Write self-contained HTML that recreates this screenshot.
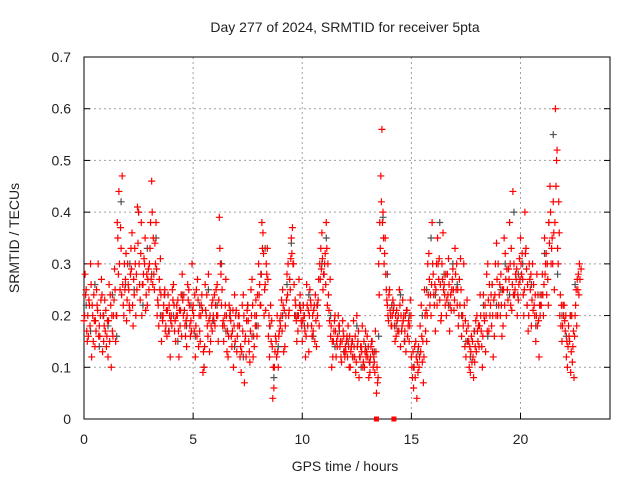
<!DOCTYPE html>
<html><head><meta charset="utf-8"><style>
html,body{margin:0;padding:0;background:#fff;}
svg{display:block;font-family:"Liberation Sans",sans-serif;}
</style></head><body>
<svg id="chart" width="640" height="480" viewBox="0 0 640 480" xmlns="http://www.w3.org/2000/svg">
<rect width="640" height="480" fill="#fff"/>
<text x="345" y="32" font-size="14" text-anchor="middle" fill="#222">Day 277 of 2024, SRMTID for receiver 5pta</text>
<text x="19" y="238" font-size="14" text-anchor="middle" fill="#222" transform="rotate(-90 19 238)">SRMTID / TECUs</text>
<text x="345" y="471" font-size="14" text-anchor="middle" fill="#222">GPS time / hours</text>
<g id="grid"></g>
<g id="axes"></g>
<g id="marks"></g>
</svg>
<script>
const xTicks=[0,5,10,15,20];
const yTicks=[0,0.1,0.2,0.3,0.4,0.5,0.6,0.7];
const yTickLabels=["0","0.1","0.2","0.3","0.4","0.5","0.6","0.7"];
const redA=[.19,.25,.16,.3,.2,.14,.22,.18,.27,.15,
.21,.12,.24,.17,.29,.2,.44,.33,.22,.27,
.3,.21,.36,.24,.28,.4,.32,.26,.35,.22,
.3,.46,.28,.38,.22,.31,.19,.25,.16,.22,
.2,.26,.15,.23,.18,.28,.21,.14,.25,.19,
.22,.12,.27,.17,.24,.1,.2,.28,.15,.23,
.18,.26,.39,.22,.15,.27,.12,.21,.17,.24,
.13,.2,.09,.24,.16,.22,.11,.27,.14,.2,
.3,.22,.36,.26,.33,.12,.19,.06,.15,.1,
.18,.25,.14,.28,.21,.35,.3,.22,.17,.24,
.15,.2,.26,.13,.22,.17,.24,.2,.3,.36,
.28,.38,.24,.16,.12,.2,.14,.18,.11,.16,
.13,.18,.1,.15,.12,.2,.08,.14,.11,.17,
.12,.09,.15,.11,.05,.3,.47,.4,.35,.22,
.25,.18,.22,.16,.2,.14,.23,.17,.21,.15,
.12,.06,.15,.09,.18,.11,.25,.15,.32,.2,
.28,.17,.35,.23,.3,.26,.2,.31,.24,.29,
.33,.22,.27,.16,.3,.12,.18,.09,.15,.11,
.2,.14,.17,.24,.13,.3,.2,.26,.16,.34,
.22,.28,.18,.32,.25,.38,.21,.3,.27,.23,
.35,.27,.4,.22,.3,.18,.26,.15,.24,.2,
.28,.35,.24,.38,.3,.42,.6,.33,.2,.15,
.22,.12,.18,.09,.14,.2,.27,.3];
const redB=[.28,.15,.22,.12,.24,.17,.3,.2,.13,.23,
.16,.26,.1,.2,.15,.35,.25,.47,.3,.19,
.25,.33,.18,.3,.41,.26,.2,.31,.24,.29,
.38,.26,.34,.2,.27,.15,.22,.18,.24,.12,
.25,.17,.22,.12,.24,.2,.16,.26,.18,.3,
.17,.25,.14,.2,.09,.26,.18,.13,.22,.19,
.25,.15,.3,.18,.2,.13,.22,.16,.1,.2,
.18,.12,.22,.07,.19,.15,.25,.12,.18,.24,
.26,.38,.2,.3,.16,.22,.04,.13,.2,.17,
.23,.13,.2,.3,.25,.37,.2,.15,.27,.19,
.22,.12,.18,.25,.16,.22,.14,.27,.33,.25,
.32,.22,.19,.1,.17,.12,.2,.15,.19,.12,
.16,.1,.14,.19,.09,.15,.12,.18,.1,.13,
.08,.14,.1,.17,.07,.38,.56,.3,.25,.19,
.2,.23,.15,.19,.25,.17,.2,.13,.18,.23,
.08,.14,.04,.1,.22,.07,.17,.3,.22,.38,
.22,.3,.27,.19,.36,.22,.28,.17,.25,.21,
.25,.18,.31,.2,.14,.23,.1,.16,.08,.19,
.15,.24,.1,.19,.28,.17,.24,.12,.3,.2,
.26,.16,.35,.2,.29,.22,.44,.25,.2,.31,
.28,.2,.33,.17,.25,.3,.2,.28,.12,.22,
.2,.3,.27,.45,.35,.25,.5,.42,.18,.22,
.17,.1,.15,.2,.08,.25,.28];
const redC=[.2,.17,.23,.26,.15,.19,.21,.16,.24,.18,
.14,.19,.22,.16,.25,.38,.3,.24,.2,.32,
.26,.28,.22,.33,.25,.3,.38,.28,.21,.27,
.33,.4,.25,.29,.18,.24,.2,.17,.21,.2,
.18,.22,.2,.17,.21,.23,.18,.2,.22,.17,
.2,.18,.23,.15,.21,.14,.24,.19,.18,.2,
.22,.2,.33,.25,.18,.2,.16,.19,.21,.15,
.16,.18,.13,.2,.12,.19,.17,.22,.2,.16,
.24,.28,.32,.21,.27,.18,.14,.1,.12,.16,
.2,.22,.18,.24,.27,.32,.26,.19,.2,.21,
.19,.17,.22,.2,.18,.21,.19,.23,.27,.31,
.3,.33,.21,.18,.15,.17,.16,.14,.15,.13,
.15,.14,.13,.12,.16,.14,.12,.13,.15,.12,
.14,.12,.13,.09,.1,.24,.42,.35,.28,.2,
.21,.2,.18,.21,.17,.2,.19,.2,.16,.18,
.1,.1,.12,.14,.13,.15,.2,.2,.27,.26,
.24,.25,.3,.26,.27,.24,.23,.26,.21,.25,
.28,.25,.22,.2,.22,.17,.15,.13,.12,.14,
.17,.18,.14,.2,.2,.23,.22,.2,.24,.27,
.24,.22,.25,.27,.23,.3,.26,.24,.29,.26,
.3,.24,.32,.26,.27,.23,.22,.2,.19,.22,
.24,.28,.3,.34,.33,.36,.45,.3,.24,.18,
.19,.15,.16,.13,.17,.22,.25,.27];
const redD=[.24,.2,.18,.22,.19,.25,.16,.23,.2,.17,
.19,.15,.2,.23,.2,.28,.37,.26,.25,.23,
.22,.29,.27,.2,.34,.23,.26,.3,.28,.25,
.27,.35,.3,.23,.25,.2,.24,.21,.17,.19,
.23,.19,.2,.21,.16,.24,.19,.23,.16,.21,
.24,.16,.2,.22,.13,.21,.16,.2,.17,.24,
.2,.23,.28,.19,.22,.17,.2,.14,.18,.21,
.2,.14,.17,.15,.21,.13,.2,.16,.23,.18,
.22,.33,.25,.28,.2,.15,.1,.16,.13,.19,
.17,.21,.23,.2,.31,.3,.23,.2,.22,.18,
.2,.16,.21,.23,.2,.15,.22,.18,.29,.28,
.26,.3,.27,.15,.19,.15,.18,.12,.17,.14,
.12,.16,.15,.14,.11,.17,.14,.1,.13,.16,
.11,.15,.12,.13,.08,.33,.38,.32,.23,.24,
.18,.21,.2,.17,.22,.18,.15,.21,.19,.2,
.13,.08,.11,.12,.16,.12,.21,.24,.24,.3,
.26,.22,.31,.2,.25,.28,.24,.22,.27,.23,
.3,.2,.25,.18,.19,.15,.14,.11,.17,.13,
.18,.2,.16,.22,.17,.26,.18,.23,.2,.3,
.2,.25,.22,.29,.27,.33,.24,.28,.24,.27,
.32,.25,.29,.2,.28,.21,.24,.18,.22,.24,
.26,.32,.22,.4,.3,.38,.52,.36,.22,.2,
.2,.14,.2,.11,.16,.18,.24,.29];
const grayC=[.22,.17,.26,.14,.2,.18,.24,.16,.42,.26,.3,.25,.4,.22,.33,.28,.35,.2,.24,.17,
.2,.15,.24,.18,.22,.16,.22,.1,.25,.19,.22,.3,.17,.2,.14,.2,.12,.22,.16,.18,
.28,.33,.18,.08,.14,.2,.26,.34,.2,.22,.18,.24,.16,.22,.3,.35,.2,.14,.17,.13,
.15,.12,.18,.1,.14,.11,.13,.16,.39,.28,.22,.18,.24,.15,.2,.1,.13,.2,.25,.35,
.24,.38,.28,.22,.3,.26,.2,.15,.12,.17,.18,.22,.16,.26,.22,.25,.3,.24,.4,.28,
.3,.22,.26,.18,.24,.32,.38,.55,.28,.2,.16,.2,.26];
const zeroTimes=[13.4,14.2];
const zeroValues=[0,0];

const X0=84,X1=610,Y0=419,Y1=57;
const xs=t=>X0+t*(X1-X0)/24.1;
const ys=v=>Y0-v*(Y0-Y1)/0.7;
const NS="http://www.w3.org/2000/svg";
function mk(tag,attrs,parent){const e=document.createElementNS(NS,tag);for(const k in attrs)e.setAttribute(k,attrs[k]);parent.appendChild(e);return e;}
const grid=document.getElementById('grid'),axes=document.getElementById('axes'),marks=document.getElementById('marks');
xTicks.forEach(t=>{
 if(t>0){const l=mk('line',{x1:xs(t),x2:xs(t),y1:Y0,y2:Y1,stroke:'#a0a0a0','stroke-dasharray':'2,3'},grid);
 
 }
 const tk=mk('line',{x1:xs(t),x2:xs(t),y1:Y0,y2:Y0-6,stroke:'#000'},axes);
 
 
 const tx=mk('text',{x:xs(t),y:444,'font-size':14,'text-anchor':'middle',fill:'#222'},axes);tx.textContent=t;
 
 
});
yTicks.forEach((v,i)=>{
 if(v>0&&v<0.7){const l=mk('line',{x1:X0,x2:X1,y1:ys(v),y2:ys(v),stroke:'#a0a0a0','stroke-dasharray':'2,3'},grid);
 
 }
 const tk=mk('line',{x1:X0,x2:X0+6,y1:ys(v),y2:ys(v),stroke:'#000'},axes);
 
 
 const tk2=mk('line',{x1:X1,x2:X1-6,y1:ys(v),y2:ys(v),stroke:'#000'},axes);
 
 
 const tx=mk('text',{x:71,y:ys(v)+5,'font-size':14,'text-anchor':'end',fill:'#222'},axes);tx.textContent=yTickLabels[i];
 
 
});
const fr=mk('rect',{x:X0,y:Y1,width:X1-X0,height:Y0-Y1,fill:'none',stroke:'#000'},axes);


function plus(t,v,color,name){
 const x=xs(t),y=ys(v);
 const p=mk('path',{d:`M${x-3.5},${y}h7M${x},${y-3.5}v7`,stroke:color,'stroke-width':1.2,fill:'none'},marks);
 
 
}
grayC.forEach((v,i)=>plus(0.1+i*0.2,v,'#505050','gray-point'));
redA.forEach((v,i)=>plus(i*0.1,v,'#ff0000','red-point'));
redB.forEach((v,i)=>plus(0.05+i*0.1,v,'#ff0000','red-point'));
redC.forEach((v,i)=>plus(0.025+i*0.1,v,'#ff0000','red-point'));
redD.forEach((v,i)=>plus(0.075+i*0.1,v,'#ff0000','red-point'));
zeroTimes.forEach((t,i)=>{
 const r=mk('rect',{x:xs(t)-2.5,y:ys(zeroValues[i])-2.5,width:5,height:5,fill:'#ff0000'},marks);
 
 
});
</script>
</body></html>
